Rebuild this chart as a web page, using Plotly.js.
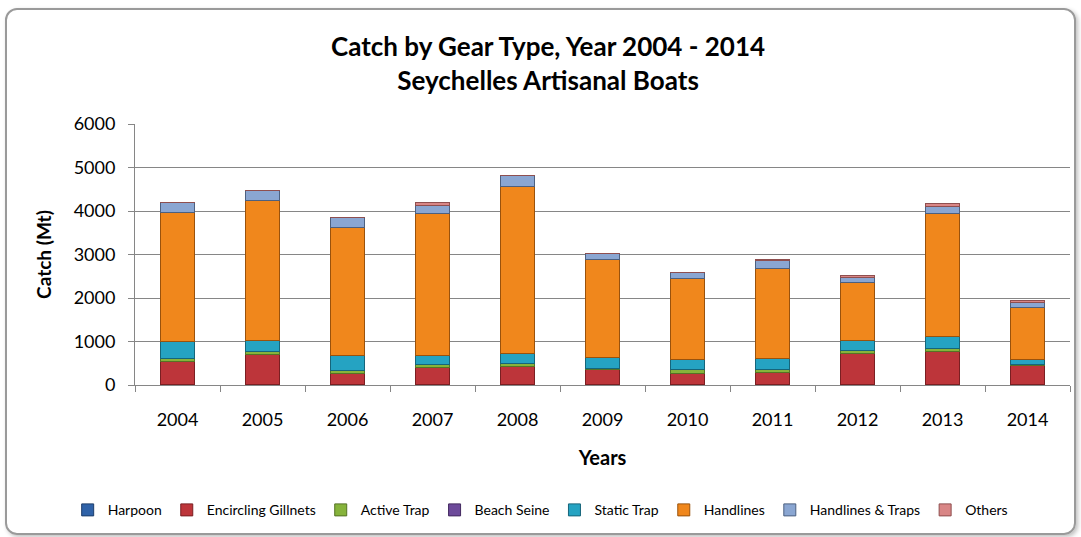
<!DOCTYPE html>
<html>
<head>
<meta charset="utf-8">
<script src="https://cdn.plot.ly/plotly-3.0.1.min.js"></script>
<style>
html,body{margin:0;padding:0;background:#fff;}
#chart{position:absolute;left:0;top:0;width:1081px;height:537px;}
#frame{position:absolute;left:5px;top:8px;width:1067px;height:523px;border:2px solid #9a9a9a;border-radius:12px;box-shadow:2px 2px 4px rgba(0,0,0,0.25);pointer-events:none;}
</style>
</head>
<body>
<div id="chart"></div>
<div id="frame"></div>
<script>
const years = ['2004','2005','2006','2007','2008','2009','2010','2011','2012','2013','2014'];
const harpoon           = [8, 10, 5, 6, 6, 5, 5, 5, 6, 6, 5];
const encirclingGillnets= [528, 695, 263, 400, 415, 345, 263, 279, 707, 760, 432];
const activeTrap        = [62, 61, 62, 54, 62, 30, 77, 76, 69, 69, 38];
const beachSeine        = [2, 2, 2, 2, 2, 2, 2, 2, 2, 2, 2];
const staticTrap        = [396, 266, 342, 212, 243, 246, 243, 251, 228, 274, 113];
const handlines         = [2966, 3204, 2943, 3272, 3832, 2261, 1854, 2069, 1341, 2835, 1195];
const handlinesTraps    = [230, 222, 230, 177, 252, 138, 146, 176, 122, 154, 108];
const others            = [0, 0, 10, 76, 0, 0, 0, 31, 31, 76, 61];

const seriesNames = ['Harpoon','Encircling Gillnets','Active Trap','Beach Seine','Static Trap','Handlines','Handlines & Traps','Others'];
const seriesData = [harpoon, encirclingGillnets, activeTrap, beachSeine, staticTrap, handlines, handlinesTraps, others];
const fills = ['#2f62a8','#bd353a','#86b33b','#6d4a9a','#25a3c2','#f0871c','#8aa6d2','#d98686'];
const edges = ['#1d3d6b','#7a1f22','#557325','#43295f','#16657a','#9a520c','#4c6080','#8f4f4f'];

const font = "Lato, 'Open Sans', sans-serif";
const traces = seriesNames.map((n,i)=>({
  type:'bar', name:n, x:years, y:seriesData[i],
  marker:{color:fills[i], line:{color:edges[i], width:1}},
  width:0.41
}));

const layout = {
  width:1081, height:537,
  margin:{l:135, r:11, t:124, b:152},
  barmode:'stack',
  paper_bgcolor:'#fff', plot_bgcolor:'#fff',
  font:{family:font, color:'#000'},
  title:{text:'<b>Catch by Gear Type, Year 2004 - 2014</b><br><b>Seychelles Artisanal Boats</b>',
         x:0.507, xref:'container', xanchor:'center', y:0.895, yref:'container', yanchor:'middle',
         font:{family:font, size:26, color:'#000'}, automargin:false},
  xaxis:{type:'category', tickson:'boundaries', ticks:'outside', ticklen:6, tickcolor:'#868686',
         showline:true, linecolor:'#868686', linewidth:1, showgrid:false, automargin:false,
         tickfont:{size:18, family:font}, ticklabelstandoff:18,
         title:{text:'<b>Years</b>', font:{size:20, family:font}, standoff:22}},
  yaxis:{range:[0,6000], dtick:1000, ticks:'outside', ticklen:6, tickcolor:'#868686',
         showline:true, linecolor:'#868686', linewidth:1, automargin:false,
         showgrid:true, gridcolor:'#868686', gridwidth:1, zeroline:false,
         tickfont:{size:18, family:font}, ticklabelstandoff:9,
         title:{text:'<b>Catch (Mt)</b>', font:{size:19, family:font}, standoff:16}},
  legend:{orientation:'h', x:-0.072, xanchor:'left', xref:'paper', y:-0.48, yref:'paper', yanchor:'middle',
          traceorder:'normal', font:{size:14, family:font}, itemwidth:30, bgcolor:'rgba(0,0,0,0)'},
  showlegend:true
};

Plotly.newPlot('chart', traces, layout, {displayModeBar:false, staticPlot:true});
</script>
</body>
</html>
